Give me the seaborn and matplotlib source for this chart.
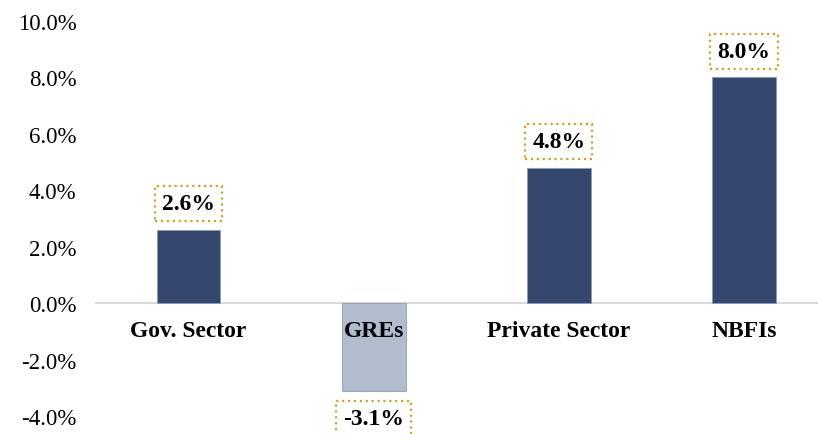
import matplotlib
matplotlib.use("Agg")
import matplotlib.pyplot as plt
from matplotlib.ticker import FuncFormatter
import seaborn as sns

categories = ["Gov. Sector", "GREs", "Private Sector", "NBFIs"]
values = [2.6, -3.1, 4.8, 8.0]
bar_colors = ["#34476E", "#B1BDCF", "#34476E", "#34476E"]
yticks = [-4, -2, 0, 2, 4, 6, 8, 10]

sns.set_theme(style="white")
plt.rcParams["font.family"] = ["Liberation Serif", "DejaVu Serif"]

fig = plt.figure(figsize=(8.18, 4.35), dpi=100)
ax = fig.add_axes([96 / 818, 1 - 417 / 435, 1 - 96 / 818, (417 - 22) / 435])

sns.barplot(x=categories, y=values, hue=categories, palette=bar_colors,
            saturation=1, width=0.345, legend=False, ax=ax,
            edgecolor="#8C9CB8", linewidth=0.6)

ax.set_xlim(-0.5, 3.40)
ax.set_ylim(-4, 10)
ax.set_yticks(yticks)
ax.yaxis.set_major_formatter(FuncFormatter(lambda v, p: f"{v:.1f}%"))
ax.set_xlabel("")
ax.set_ylabel("")
ax.set_axisbelow(False)

for s in ["top", "right", "left"]:
    ax.spines[s].set_visible(False)
ax.spines["bottom"].set_position(("data", 0))
ax.spines["bottom"].set_color("#D9D9D9")
ax.spines["bottom"].set_linewidth(1.5)
ax.spines["bottom"].set_zorder(0.5)

ax.tick_params(axis="y", length=0, labelsize=16.5, colors="black", pad=14)
ax.tick_params(axis="x", length=0, labelsize=17, colors="black", pad=12)
for lbl in ax.get_xticklabels():
    lbl.set_fontweight("bold")

for i, v in enumerate(values):
    off = 26 if v >= 0 else -28
    ax.annotate(f"{v:.1f}%", xy=(i, v), xytext=(0, off), textcoords="offset pixels",
                ha="center", va="center", fontsize=17, fontweight="bold", color="black",
                annotation_clip=False,
                bbox=dict(boxstyle="square,pad=0.3", fc="white", ec="#D4A020",
                          ls=":", lw=1.6))

fig.savefig("out.png", dpi=100)
